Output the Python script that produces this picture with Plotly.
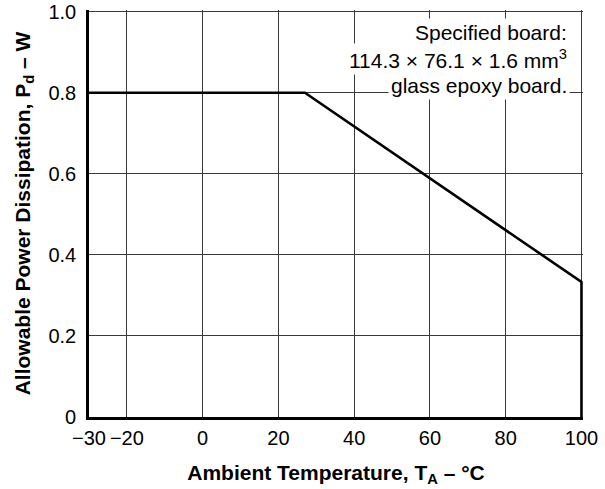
import plotly.graph_objects as go

# Data
temperature = [-30, 27, 100, 100]
power = [0.8, 0.8, 0.333, 0.0]

x_ticks = [-30, -20, 0, 20, 40, 60, 80, 100]
x_tick_labels = ["\u221230", "\u221220", "0", "20", "40", "60", "80", "100"]
y_ticks = [0, 0.2, 0.4, 0.6, 0.8, 1.0]
y_tick_labels = ["0", "0.2", "0.4", "0.6", "0.8", "1.0"]

note_lines = [
    "Specified board:",
    "114.3 \u00d7 76.1 \u00d7 1.6 mm<sup>3</sup>",
    "glass epoxy board.",
]

FONT = "Liberation Sans, Arial, Helvetica, sans-serif"
GRID = "#3a3a3a"

fig = go.Figure()
fig.add_trace(go.Scatter(
    x=temperature, y=power, mode="lines",
    line=dict(color="black", width=2.6),
    hoverinfo="skip", showlegend=False,
))

# line centres at ~32, 59, 85 px from top of a 407 px plot starting at 10 px
note_y = [(417 - 32) / 407, (417 - 59) / 407, (417 - 85) / 407]
for txt, yy in zip(note_lines, note_y):
    fig.add_annotation(
        text=txt, xref="paper", yref="paper", x=(570 - 89) / 494, y=yy,
        xanchor="right", yanchor="middle", showarrow=False,
        bgcolor="white", borderpad=2,
        font=dict(family=FONT, size=21, color="black"),
    )

fig.update_layout(
    width=605, height=489,
    margin=dict(l=89, r=22, t=10, b=72),
    paper_bgcolor="white", plot_bgcolor="white",
    font=dict(family=FONT, size=20, color="black"),
    xaxis=dict(
        range=[-30, 100.4], tickvals=x_ticks, ticktext=x_tick_labels,
        showgrid=True, gridcolor=GRID, gridwidth=1.2,
        showline=True, linecolor="black", linewidth=2.6,
        ticks="", ticklen=0, ticklabelstandoff=1, zeroline=False,
        automargin=False,
        title=dict(text="<b>Ambient Temperature, T<sub>A</sub> \u2013 \u00b0C</b>",
                   font=dict(family=FONT, size=21), standoff=18),
        tickfont=dict(family=FONT, size=20),
    ),
    yaxis=dict(
        range=[0, 1.004], tickvals=y_ticks, ticktext=y_tick_labels,
        showgrid=True, gridcolor=GRID, gridwidth=1.2,
        showline=True, linecolor="black", linewidth=2.6,
        ticks="", ticklen=0, ticklabelstandoff=6, zeroline=False,
        automargin=False,
        title=dict(text="<b>Allowable Power Dissipation, P<sub>d</sub> \u2013 W</b>",
                   font=dict(family=FONT, size=21), standoff=13),
        tickfont=dict(family=FONT, size=20),
    ),
)

fig.write_html(
    "out.html",
    config={"displayModeBar": False},
    post_script="document.body.style.margin='0';document.body.style.overflow='hidden';",
)
